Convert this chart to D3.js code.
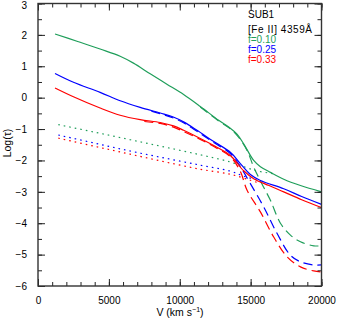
<!DOCTYPE html>
<html lang="en">
<head>
<meta charset="utf-8">
<title>Log tau vs velocity</title>
<script src="https://d3js.org/d3.v7.min.js"></script>
<style>
  body { margin: 0; background: #fff; }
  text { font-family: "Liberation Sans", Arial, sans-serif; }
</style>
</head>
<body>
<script>
// velocity (km/s) , log(tau)
const fLabels = ["f=0.10", "f=0.25", "f=0.33"];
const xTicks = [0, 5000, 10000, 15000, 20000];
const yTicks = [-6, -5, -4, -3, -2, -1, 0, 1, 2, 3];

const solid10 = [[1200,2.03],[2800,1.79],[4382,1.55],[5795,1.32],[6735,1.1],[7915,0.76],[9094,0.43],[10272,0.1],[11449,-0.28],[12742,-0.72],[13500,-0.95],[14040,-1.16],[14509,-1.47],[15216,-2.0],[15689,-2.2],[16396,-2.38],[17336,-2.6],[18516,-2.8],[20000,-3.0]];
const dashed10 = [[11449,-0.3],[12742,-0.74],[13500,-0.97],[14040,-1.2],[14749,-1.68],[15216,-2.21],[15800,-2.75],[16396,-3.27],[17102,-4.0],[17809,-4.38],[18516,-4.59],[19456,-4.72],[20000,-4.72]];
const dotted10 = [[1435,-0.86],[4000,-1.1],[6500,-1.34],[9000,-1.58],[11449,-1.82],[13569,-2.05],[15335,-2.32],[16600,-2.42]];

const solid25 = [[1200,0.77],[2500,0.49],[4382,0.17],[5795,-0.1],[7208,-0.31],[8622,-0.49],[9500,-0.61],[10300,-0.78],[11216,-1.04],[12400,-1.4],[13569,-1.74],[14276,-2.1],[14982,-2.45],[15689,-2.64],[17336,-2.9],[18600,-3.15],[20000,-3.4]];
const dashed25 = [[8000,-0.43],[9500,-0.64],[10300,-0.81],[11216,-1.07],[12400,-1.43],[13569,-1.78],[14276,-2.2],[14982,-2.74],[15922,-3.48],[16869,-4.33],[17809,-5.02],[18516,-5.23],[19456,-5.33],[20000,-5.33]];
const dotted25 = [[1435,-1.19],[4000,-1.45],[6500,-1.7],[9000,-1.93],[11449,-2.15],[13569,-2.34],[14500,-2.5],[15500,-2.62]];

const solid33 = [[1200,0.31],[2500,0.03],[4382,-0.33],[5795,-0.56],[7208,-0.7],[8622,-0.79],[9563,-0.9],[10272,-1.04],[11449,-1.3],[12500,-1.55],[13569,-1.84],[14509,-2.33],[15216,-2.58],[16300,-2.8],[17336,-3.0],[18600,-3.25],[20000,-3.5]];
const dashed33 = [[7500,-0.76],[8622,-0.82],[9563,-0.94],[10272,-1.08],[11449,-1.33],[12500,-1.58],[13569,-1.88],[14276,-2.35],[14749,-2.95],[15689,-3.64],[16629,-4.44],[17576,-5.07],[18516,-5.39],[19456,-5.52],[20000,-5.55]];
const dotted33 = [[1435,-1.29],[4000,-1.55],[6500,-1.8],[9000,-2.05],[11449,-2.28],[13569,-2.44],[14982,-2.63],[15600,-2.72]];

const W = 337, H = 321;
const m = { left: 38, right: 321.5, top: 3.5, bottom: 286 };

const svg = d3.select("body").append("svg")
  .attr("width", W)
  .attr("height", H);

const x = d3.scaleLinear().domain([0, 20000]).range([m.left, m.right]);
const y = d3.scaleLinear().domain([-6, 3]).range([m.bottom, m.top]);

const colGreen = "#1f9e5a", colBlue = "#0000ff", colRed = "#ff0000";

const line = d3.line()
  .x(d => x(d[0]))
  .y(d => y(d[1]))
  .curve(d3.curveCatmullRom.alpha(0.5));

const curves = [
  { data: dotted10, color: colGreen, dash: "1.6,4" },
  { data: dotted25, color: colBlue, dash: "1.6,4" },
  { data: dotted33, color: colRed, dash: "1.6,4" },
  { data: dashed10, color: colGreen, dash: "9,5" },
  { data: dashed25, color: colBlue, dash: "9,5" },
  { data: dashed33, color: colRed, dash: "9,5" },
  { data: solid10, color: colGreen, dash: null },
  { data: solid25, color: colBlue, dash: null },
  { data: solid33, color: colRed, dash: null }
];

svg.selectAll("path.curve")
  .data(curves)
  .enter()
  .append("path")
  .attr("class", "curve")
  .attr("d", d => line(d.data))
  .attr("fill", "none")
  .attr("stroke", d => d.color)
  .attr("stroke-width", 1.2)
  .attr("stroke-dasharray", d => d.dash);

// axes, ticks pointing inwards on all four sides
const minorX = d3.range(0, 20001, 1000);
const minorY = d3.range(-6, 3.01, 0.5);

function styleAxis(g) {
  g.selectAll(".domain").remove();
  g.selectAll("line").attr("stroke", "#222").attr("stroke-width", 1);
  g.selectAll("text").attr("font-size", 10).attr("fill", "#000");
}

svg.append("g")
  .attr("transform", "translate(0," + m.bottom + ")")
  .call(d3.axisBottom(x).tickValues(minorX).tickSize(-4).tickFormat(""))
  .call(styleAxis);
svg.append("g")
  .attr("transform", "translate(0," + m.bottom + ")")
  .call(d3.axisBottom(x).tickValues(xTicks).tickSize(-7).tickPadding(11).tickFormat(d3.format("d")))
  .call(styleAxis);

svg.append("g")
  .attr("transform", "translate(0," + m.top + ")")
  .call(d3.axisTop(x).tickValues(minorX).tickSize(-4).tickFormat(""))
  .call(styleAxis);
svg.append("g")
  .attr("transform", "translate(0," + m.top + ")")
  .call(d3.axisTop(x).tickValues(xTicks).tickSize(-7).tickFormat(""))
  .call(styleAxis);

svg.append("g")
  .attr("transform", "translate(" + m.left + ",0)")
  .call(d3.axisLeft(y).tickValues(minorY).tickSize(-4).tickFormat(""))
  .call(styleAxis);
const yAxisG = svg.append("g")
  .attr("transform", "translate(" + m.left + ",0)")
  .call(d3.axisLeft(y).tickValues(yTicks).tickSize(-7).tickPadding(11).tickFormat(d3.format("d")))
  .call(styleAxis);
// keep the top label inside the picture
yAxisG.selectAll("text").filter(d => d === 3).attr("dy", "0.5em");

svg.append("g")
  .attr("transform", "translate(" + m.right + ",0)")
  .call(d3.axisRight(y).tickValues(minorY).tickSize(-4).tickFormat(""))
  .call(styleAxis);
svg.append("g")
  .attr("transform", "translate(" + m.right + ",0)")
  .call(d3.axisRight(y).tickValues(yTicks).tickSize(-7).tickFormat(""))
  .call(styleAxis);

svg.append("rect")
  .attr("x", m.left)
  .attr("y", m.top)
  .attr("width", m.right - m.left)
  .attr("height", m.bottom - m.top)
  .attr("fill", "none")
  .attr("stroke", "#333")
  .attr("stroke-width", 1.4);

// axis titles
const xt = svg.append("text")
  .attr("x", 180)
  .attr("y", 316)
  .attr("text-anchor", "middle")
  .attr("font-size", 10.5);
xt.append("tspan").text("V (km s");
xt.append("tspan").attr("dy", -4).attr("font-size", 7).text("\u22121");
xt.append("tspan").attr("dy", 4).text(")");

svg.append("text")
  .attr("transform", "translate(11,143) rotate(-90)")
  .attr("text-anchor", "middle")
  .attr("font-size", 10.5)
  .text("Log(\u03c4)");

// legend
const lx = 248;
svg.append("text").attr("x", lx).attr("y", 18).attr("font-size", 10).text("SUB1");
svg.append("text").attr("x", lx).attr("y", 33).attr("font-size", 10)
  .attr("textLength", 64).attr("lengthAdjust", "spacing")
  .text("[Fe II] 4359\u00c5");
const legColors = [colGreen, colBlue, colRed];
svg.selectAll("text.leg")
  .data(fLabels)
  .enter()
  .append("text")
  .attr("class", "leg")
  .attr("x", lx)
  .attr("y", (d, i) => 43 + i * 10)
  .attr("font-size", 10)
  .attr("fill", (d, i) => legColors[i])
  .text(d => d);
</script>
</body>
</html>
